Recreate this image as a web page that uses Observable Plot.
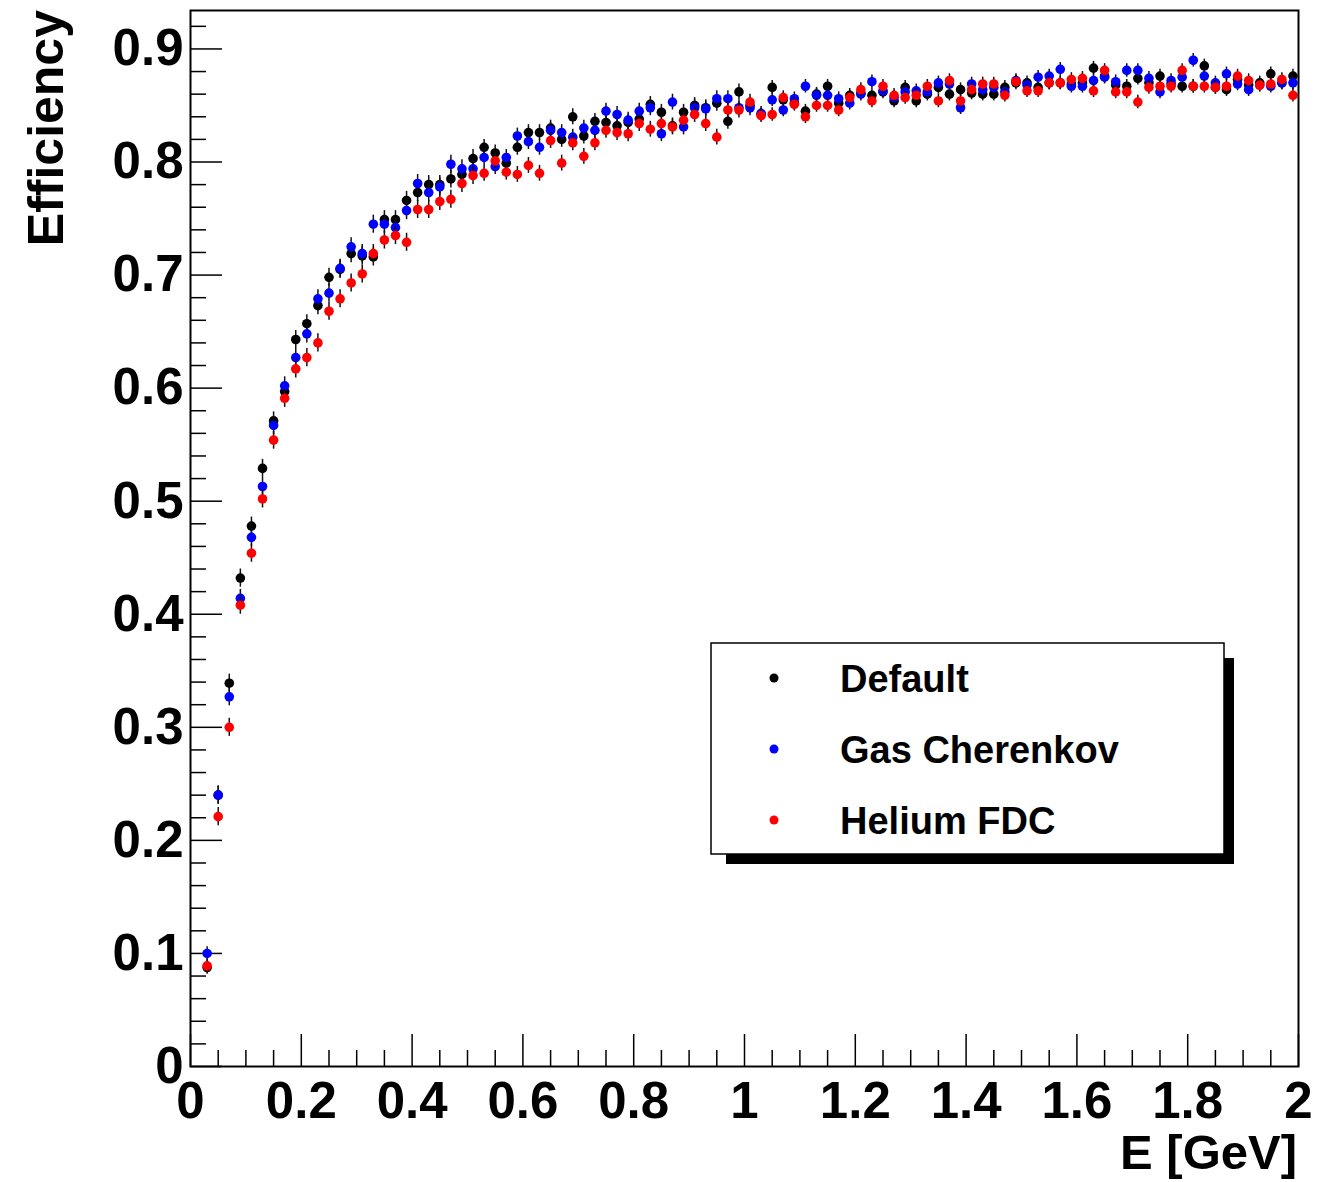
<!DOCTYPE html>
<html>
<head>
<meta charset="utf-8">
<script src="https://cdn.jsdelivr.net/npm/d3@7"></script>
<script src="https://cdn.jsdelivr.net/npm/@observablehq/plot@0.6"></script>
<style>
  html, body { margin: 0; padding: 0; background: white; }
  #chart svg { display: block; }
</style>
</head>
<body>
<div id="chart"></div>
<script>
// Bin centers (GeV)
const energy = [
  0.03,0.05,0.07,0.09,0.11,0.13,0.15,0.17,0.19,0.21,
  0.23,0.25,0.27,0.29,0.31,0.33,0.35,0.37,0.39,0.41,
  0.43,0.45,0.47,0.49,0.51,0.53,0.55,0.57,0.59,0.61,
  0.63,0.65,0.67,0.69,0.71,0.73,0.75,0.77,0.79,0.81,
  0.83,0.85,0.87,0.89,0.91,0.93,0.95,0.97,0.99,1.01,
  1.03,1.05,1.07,1.09,1.11,1.13,1.15,1.17,1.19,1.21,
  1.23,1.25,1.27,1.29,1.31,1.33,1.35,1.37,1.39,1.41,
  1.43,1.45,1.47,1.49,1.51,1.53,1.55,1.57,1.59,1.61,
  1.63,1.65,1.67,1.69,1.71,1.73,1.75,1.77,1.79,1.81,
  1.83,1.85,1.87,1.89,1.91,1.93,1.95,1.97,1.99
];

const effDefault = [
  0.0875,0.240,0.339,0.432,0.478,0.529,0.571,0.597,0.643,0.657,
  0.673,0.698,0.705,0.719,0.717,0.716,0.749,0.749,0.766,0.773,
  0.780,0.780,0.785,0.789,0.803,0.813,0.808,0.799,0.813,0.826,
  0.826,0.830,0.820,0.840,0.823,0.836,0.835,0.832,0.835,0.838,
  0.851,0.844,0.832,0.844,0.850,0.848,0.852,0.836,0.862,0.850,
  0.842,0.866,0.855,0.852,0.845,0.860,0.867,0.852,0.859,0.861,
  0.859,0.862,0.854,0.866,0.854,0.860,0.866,0.860,0.864,0.861,
  0.860,0.860,0.866,0.870,0.870,0.866,0.870,0.870,0.869,0.870,
  0.883,0.876,0.868,0.867,0.874,0.870,0.876,0.869,0.867,0.867,
  0.885,0.866,0.864,0.873,0.868,0.870,0.878,0.870,0.876
];

const effGasCherenkov = [
  0.100,0.240,0.327,0.414,0.468,0.513,0.567,0.602,0.627,0.648,
  0.679,0.684,0.706,0.725,0.719,0.745,0.745,0.742,0.757,0.781,
  0.773,0.778,0.798,0.794,0.794,0.804,0.796,0.804,0.823,0.818,
  0.813,0.828,0.826,0.822,0.830,0.828,0.845,0.842,0.837,0.845,
  0.848,0.825,0.853,0.831,0.848,0.847,0.856,0.856,0.848,0.848,
  0.843,0.855,0.846,0.856,0.867,0.859,0.859,0.856,0.852,0.860,
  0.871,0.863,0.857,0.862,0.863,0.862,0.870,0.869,0.848,0.869,
  0.864,0.866,0.862,0.872,0.868,0.875,0.876,0.882,0.867,0.867,
  0.872,0.875,0.871,0.881,0.881,0.874,0.862,0.872,0.875,0.890,
  0.876,0.870,0.878,0.869,0.864,0.868,0.867,0.870,0.870
];

const effHeliumFDC = [
  0.089,0.221,0.300,0.408,0.454,0.502,0.554,0.591,0.617,0.627,
  0.640,0.668,0.679,0.693,0.701,0.719,0.731,0.735,0.729,0.758,
  0.758,0.765,0.767,0.781,0.788,0.790,0.801,0.791,0.789,0.797,
  0.790,0.819,0.799,0.817,0.805,0.817,0.828,0.826,0.825,0.834,
  0.829,0.834,0.831,0.837,0.842,0.834,0.822,0.846,0.846,0.853,
  0.841,0.842,0.857,0.851,0.840,0.850,0.850,0.846,0.857,0.864,
  0.854,0.867,0.859,0.857,0.859,0.867,0.854,0.872,0.854,0.864,
  0.869,0.869,0.859,0.871,0.863,0.863,0.870,0.870,0.873,0.874,
  0.863,0.881,0.862,0.862,0.853,0.866,0.867,0.867,0.881,0.867,
  0.867,0.866,0.867,0.876,0.872,0.868,0.869,0.873,0.859
];

// Statistical uncertainty per bin (approx., read from error-bar lengths)
const errors = [
  0.006,0.008,0.008,0.008,0.008,0.008,0.008,0.008,0.008,0.008,
  0.008,0.008,0.008,0.008,0.008,0.008,0.008,0.008,0.008,0.008,
  0.008,0.008,0.008,0.008,0.008,0.007,0.007,0.007,0.007,0.007,
  0.007,0.007,0.007,0.007,0.007,0.007,0.007,0.007,0.007,0.007,
  0.007,0.007,0.007,0.007,0.007,0.007,0.007,0.007,0.007,0.007,
  0.006,0.006,0.006,0.006,0.006,0.006,0.006,0.006,0.006,0.006,
  0.006,0.006,0.006,0.006,0.006,0.006,0.006,0.006,0.006,0.006,
  0.006,0.006,0.006,0.006,0.006,0.006,0.006,0.006,0.006,0.006,
  0.006,0.006,0.006,0.006,0.006,0.006,0.006,0.006,0.006,0.006,
  0.006,0.006,0.006,0.006,0.006,0.006,0.006,0.006,0.006
];

const seriesNames = ["Default", "Gas Cherenkov", "Helium FDC"];
const seriesColors = ["#000000", "#0000ff", "#ff0000"];
const seriesValues = [effDefault, effGasCherenkov, effHeliumFDC];

const yMajorTicks = [0, 0.1, 0.2, 0.3, 0.4, 0.5, 0.6, 0.7, 0.8, 0.9];
const yMinorTicks = [0.02,0.04,0.06,0.08,0.12,0.14,0.16,0.18,0.22,0.24,0.26,0.28,
  0.32,0.34,0.36,0.38,0.42,0.44,0.46,0.48,0.52,0.54,0.56,0.58,0.62,0.64,0.66,0.68,
  0.72,0.74,0.76,0.78,0.82,0.84,0.86,0.88,0.92];
const xMajorTicks = [0, 0.2, 0.4, 0.6, 0.8, 1, 1.2, 1.4, 1.6, 1.8, 2];
const xMinorTicks = [0.05,0.1,0.15,0.25,0.3,0.35,0.45,0.5,0.55,0.65,0.7,0.75,0.85,0.9,0.95,
  1.05,1.1,1.15,1.25,1.3,1.35,1.45,1.5,1.55,1.65,1.7,1.75,1.85,1.9,1.95];

const xLabel = "E [GeV]";
const yLabel = "Efficiency";

const font = "'Liberation Sans', Arial, Helvetica, sans-serif";

const data = [];
seriesValues.forEach((vals, s) => {
  vals.forEach((v, i) => data.push({series: seriesNames[s], color: seriesColors[s], E: energy[i], eff: v, err: errors[i]}));
});

const fmtY = d => d === 0 ? "0" : d3.format(".1f")(d);
const fmtX = d => Number.isInteger(d) ? String(d) : d3.format(".1f")(d);

const seriesMarks = [];
seriesNames.forEach((name, s) => {
  const sub = data.filter(d => d.series === name);
  seriesMarks.push(Plot.ruleX(sub, {x: "E", y1: d => d.eff - d.err, y2: d => d.eff + d.err, stroke: "#111", strokeWidth: 1.5}));
  seriesMarks.push(Plot.dot(sub, {x: "E", y: "eff", r: 4.8, fill: seriesColors[s], stroke: "none"}));
});

const svg = Plot.plot({
  width: 1327,
  height: 1182,
  marginLeft: 190,
  marginRight: 29,
  marginTop: 10,
  marginBottom: 116,
  style: {fontFamily: font, background: "white", color: "black"},
  x: {domain: [0, 2], label: null},
  y: {domain: [0, 0.934], label: null},
  marks: [
    // ticks (inside the frame, ROOT style)
    Plot.axisY(yMinorTicks, {tickSize: -16, fill: "none", stroke: "black", strokeWidth: 1.5, label: null}),
    Plot.axisY(yMajorTicks, {tickSize: -32, fill: "none", stroke: "black", strokeWidth: 1.5, label: null}),
    Plot.axisX(xMinorTicks, {tickSize: -16, fill: "none", stroke: "black", strokeWidth: 1.5, label: null}),
    Plot.axisX(xMajorTicks, {tickSize: -32, fill: "none", stroke: "black", strokeWidth: 1.5, label: null}),
    // tick labels
    Plot.axisY(yMajorTicks, {tickSize: 0, tickPadding: 7, tickFormat: fmtY, fontSize: 51, fontWeight: "bold", fill: "black", label: null}),
    Plot.axisX(xMajorTicks, {tickSize: 0, tickPadding: 15, tickFormat: fmtX, fontSize: 51, fontWeight: "bold", fill: "black", label: null}),
    ...seriesMarks,
    Plot.frame({stroke: "black", strokeWidth: 2})
  ]
});

const sel = d3.select(svg);

// Axis titles
sel.append("text")
  .attr("x", 1297).attr("y", 1169)
  .attr("text-anchor", "end")
  .attr("font-family", font).attr("font-weight", "bold").attr("font-size", 49)
  .attr("fill", "black")
  .text(xLabel);

sel.append("text")
  .attr("transform", "translate(63,10) rotate(-90)")
  .attr("text-anchor", "end")
  .attr("font-family", font).attr("font-weight", "bold").attr("font-size", 50)
  .attr("fill", "black")
  .text(yLabel);

// Legend (ROOT-style box with shadow)
const lg = sel.append("g");
lg.append("rect").attr("x", 726).attr("y", 658).attr("width", 508).attr("height", 206).attr("fill", "black");
lg.append("rect").attr("x", 711).attr("y", 643).attr("width", 513).attr("height", 211)
  .attr("fill", "white").attr("stroke", "black").attr("stroke-width", 1.5);
seriesNames.forEach((name, i) => {
  const cy = 678 + i * 71;
  lg.append("circle").attr("cx", 774).attr("cy", cy).attr("r", 4.5).attr("fill", seriesColors[i]);
  lg.append("text").attr("x", 840).attr("y", cy + 14)
    .attr("text-anchor", "start")
    .attr("font-family", font).attr("font-weight", "bold").attr("font-size", 38)
    .attr("fill", "black").text(name);
});

document.getElementById("chart").appendChild(svg);
</script>
</body>
</html>
